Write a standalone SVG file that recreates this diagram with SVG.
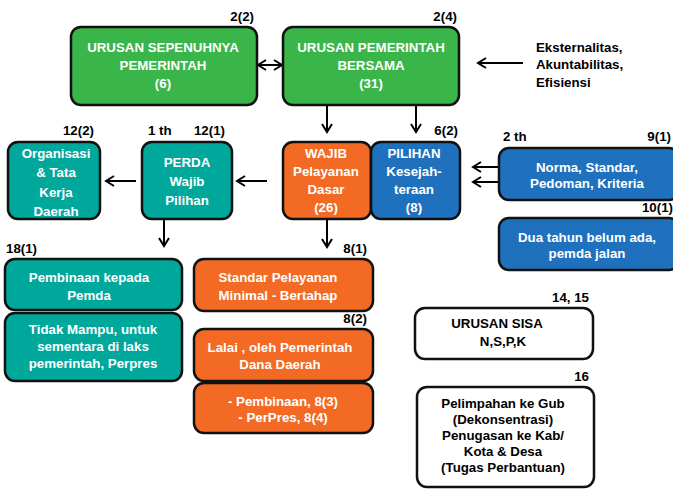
<svg xmlns="http://www.w3.org/2000/svg" width="673" height="489" viewBox="0 0 673 489">
<defs>
<marker id="ah" viewBox="0 0 12 12" refX="10" refY="6" markerWidth="12" markerHeight="12" markerUnits="userSpaceOnUse" orient="auto-start-reverse">
<path d="M2,1 L10,6 L2,11" fill="none" stroke="#000" stroke-width="2"/>
</marker>
<style>
.bx{stroke:#111;stroke-width:2.5}
.g{fill:#3AB54A}.o{fill:#F26A24}.b{fill:#1F71BD}.t{fill:#00A89C}.w{fill:#fff}
text{font-family:"Liberation Sans",Arial,sans-serif;font-weight:bold;font-size:13.3px}
.wt{fill:#fff;text-anchor:middle}
.kt{fill:#000;text-anchor:middle}
.lb{fill:#000;font-size:13.3px}
.r{text-anchor:end}
.c{stroke:#000;stroke-width:2;fill:none;marker-end:url(#ah)}
.c2{marker-start:url(#ah)}
</style>
</defs>
<rect width="673" height="489" fill="#fff"/>

<g id="connectors">
<line class="c c2" x1="258" y1="65" x2="282" y2="65"/>
<line class="c" x1="523" y1="63" x2="478" y2="63"/>
<line class="c" x1="327" y1="106" x2="327" y2="132"/>
<line class="c" x1="416" y1="106" x2="416" y2="132"/>
<line class="c" x1="267" y1="181" x2="237" y2="181"/>
<line class="c" x1="136" y1="181" x2="106" y2="181"/>
<line class="c" x1="499" y1="167" x2="473" y2="167"/>
<line class="c" x1="499" y1="182" x2="473" y2="182"/>
<line class="c" x1="164" y1="220" x2="164" y2="246"/>
<line class="c" x1="327" y1="220" x2="327" y2="247"/>
</g>

<g id="n-sepenuhnya">
<rect class="bx g" x="71" y="27" width="186" height="78" rx="10"/>
<text class="wt" x="163" y="52">URUSAN SEPENUHNYA</text>
<text class="wt" x="163" y="70">PEMERINTAH</text>
<text class="wt" x="163" y="88">(6)</text>
<text class="lb r" x="254" y="21">2(2)</text>
</g>
<g id="n-bersama">
<rect class="bx g" x="283" y="27" width="176" height="78" rx="10"/>
<text class="wt" x="371" y="52">URUSAN PEMERINTAH</text>
<text class="wt" x="371" y="70">BERSAMA</text>
<text class="wt" x="371" y="88">(31)</text>
<text class="lb r" x="457" y="21">2(4)</text>
</g>
<g id="n-eksternalitas">
<text class="lb" x="536" y="52">Eksternalitas,</text>
<text class="lb" x="536" y="69">Akuntabilitas,</text>
<text class="lb" x="536" y="87">Efisiensi</text>
</g>

<g id="n-organisasi">
<rect class="bx t" x="8" y="142" width="92" height="77" rx="10"/>
<text class="wt" x="56" y="158">Organisasi</text>
<text class="wt" x="56" y="177">&amp; Tata</text>
<text class="wt" x="56" y="197">Kerja</text>
<text class="wt" x="56" y="216">Daerah</text>
<text class="lb r" x="94" y="135">12(2)</text>
</g>
<g id="n-perda">
<rect class="bx t" x="142" y="142" width="90" height="77" rx="10"/>
<text class="wt" x="187" y="167">PERDA</text>
<text class="wt" x="187" y="186">Wajib</text>
<text class="wt" x="187" y="205">Pilihan</text>
<text class="lb" x="148" y="135">1 th</text>
<text class="lb r" x="225" y="135">12(1)</text>
</g>
<g id="n-wajib">
<rect class="bx o" x="283" y="142" width="88" height="77" rx="10"/>
<text class="wt" x="326" y="158">WAJIB</text>
<text class="wt" x="326" y="176">Pelayanan</text>
<text class="wt" x="326" y="194">Dasar</text>
<text class="wt" x="326" y="212">(26)</text>
</g>
<g id="n-pilihan">
<rect class="bx b" x="371" y="142" width="89" height="77" rx="10"/>
<text class="wt" x="414" y="158">PILIHAN</text>
<text class="wt" x="414" y="176">Kesejah-</text>
<text class="wt" x="414" y="194">teraan</text>
<text class="wt" x="414" y="212">(8)</text>
<text class="lb r" x="458" y="135">6(2)</text>
</g>
<g id="n-norma">
<rect class="bx b" x="499" y="148" width="180" height="52" rx="10"/>
<text class="wt" x="587" y="172">Norma, Standar,</text>
<text class="wt" x="587" y="188">Pedoman, Kriteria</text>
<text class="lb" x="503" y="141">2 th</text>
<text class="lb r" x="671" y="141">9(1)</text>
</g>
<g id="n-duatahun">
<rect class="bx b" x="499" y="218" width="180" height="52" rx="10"/>
<text class="wt" x="587" y="242">Dua tahun belum ada,</text>
<text class="wt" x="587" y="258">pemda jalan</text>
<text class="lb r" x="673" y="212">10(1)</text>
</g>

<g id="n-pembinaan-pemda">
<rect class="bx t" x="5" y="259" width="177" height="51" rx="10"/>
<text class="wt" x="89" y="282">Pembinaan kepada</text>
<text class="wt" x="89" y="300">Pemda</text>
<text class="lb" x="6" y="253">18(1)</text>
</g>
<g id="n-tidakmampu">
<rect class="bx t" x="5" y="313" width="177" height="68" rx="10"/>
<text class="wt" x="93" y="334">Tidak Mampu, untuk</text>
<text class="wt" x="93" y="351">sementara di laks</text>
<text class="wt" x="93" y="368">pemerintah, Perpres</text>
</g>

<g id="n-spm">
<rect class="bx o" x="194" y="259" width="179" height="52" rx="10"/>
<text class="wt" x="278" y="282">Standar Pelayanan</text>
<text class="wt" x="278" y="300">Minimal - Bertahap</text>
<text class="lb r" x="367" y="253">8(1)</text>
</g>
<g id="n-lalai">
<rect class="bx o" x="194" y="329" width="179" height="52" rx="10"/>
<text class="wt" x="280" y="352">Lalai , oleh Pemerintah</text>
<text class="wt" x="280" y="369">Dana Daerah</text>
<text class="lb r" x="367" y="323">8(2)</text>
</g>
<g id="n-pembinaan83">
<rect class="bx o" x="194" y="383" width="179" height="50" rx="10"/>
<text class="wt" x="283" y="406">- Pembinaan, 8(3)</text>
<text class="wt" x="283" y="422">- PerPres, 8(4)</text>
</g>

<g id="n-sisa">
<rect class="bx w" x="415" y="308" width="178" height="51" rx="10"/>
<text class="kt" x="497" y="328">URUSAN SISA</text>
<text class="kt" x="503" y="346">N,S,P,K</text>
<text class="lb r" x="589" y="302">14, 15</text>
</g>
<g id="n-pelimpahan">
<rect class="bx w" x="417" y="387" width="177" height="100" rx="10"/>
<text class="kt" x="503" y="408">Pelimpahan ke Gub</text>
<text class="kt" x="503" y="424">(Dekonsentrasi)</text>
<text class="kt" x="503" y="440">Penugasan ke Kab/</text>
<text class="kt" x="503" y="456">Kota &amp; Desa</text>
<text class="kt" x="503" y="472">(Tugas Perbantuan)</text>
<text class="lb r" x="589" y="381">16</text>
</g>
</svg>
